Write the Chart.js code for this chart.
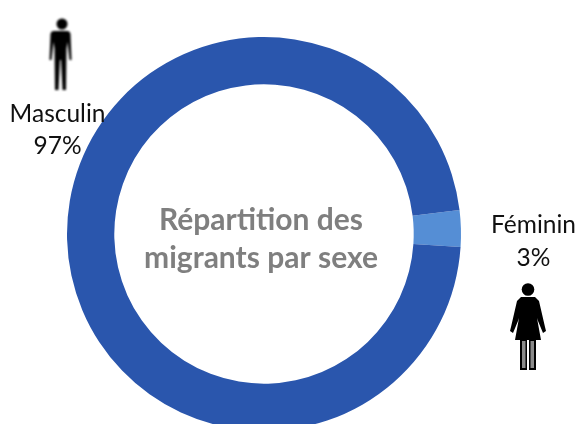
<!DOCTYPE html>
<html><head><meta charset="utf-8">
<style>html,body{margin:0;padding:0;background:#fff;overflow:hidden;width:579px;height:424px}
#w{position:relative;width:579px;height:424px;overflow:hidden}
canvas{position:absolute;left:0;top:0}
svg{position:absolute;overflow:visible}
</style>
<script src="https://cdn.jsdelivr.net/npm/chart.js@4"></script>
</head><body><div id="w"><canvas id="c" width="579" height="431"></canvas>
<svg style="left:0;top:0;filter:blur(.8px)" width="579" height="424">
<g fill="#000">
<circle cx="62" cy="24" r="5.5"/>
<path d="M57 31h10q3 0 3.5 3l1 26h-2l-2-18-1 7-.5 41h-3.5l-1.5-30h-1l-1.5 30h-3.5l-.5-41-1-7-2 18h-2l1-26q.5-3 3.5-3z"/>
</g></svg>
<svg style="left:0;top:0;filter:blur(.45px)" width="579" height="424">
<g fill="#000">
<circle cx="528" cy="289.500" r="6.300"/>
<path d="M521 297h14l4 4 6 26 1 4-3 2-5-12-1-3 4 22h-26l4-22-1 3-5 12-3-2 1-4 6-26z"/>
<path d="M520 340h7v30h-7zM529 340h7v30h-7z"/>
</g><g fill="#8a8a8a"><rect x="522" y="341" width="3.500" height="27"/><rect x="530.500" y="341" width="3.500" height="27"/></g></svg>
</div>
<script>
const categories=["Féminin","Masculin"];
const values=[3,97];
const percentLabels=["3%","97%"];
const sliceColors=["#558ed5","#2a56ad"];
const centerTitle=["Répartition des","migrants par sexe"];
const textPlugin={id:'texts',afterDraw(ch){
 const x=ch.ctx;x.save();x.textAlign='center';x.textBaseline='middle';
 x.fillStyle='#7f7f7f';x.font='bold 30px Lato';
 x.fillText(centerTitle[0],261,220);x.fillText(centerTitle[1],261,258);
 x.fillStyle='#111';x.font='24.5px Lato';
 x.fillText(categories[1],57.5,114);x.fillText(percentLabels[1],57.5,146);
 x.fillText(categories[0],533.5,225);x.fillText(percentLabels[0],533.5,258);
 x.restore();}};
new Chart(document.getElementById('c'),{type:'doughnut',
 data:{labels:categories,datasets:[{data:values,backgroundColor:sliceColors,borderWidth:0}]},
 options:{responsive:false,animation:false,rotation:83,cutout:'76%',
  layout:{padding:{left:67,right:118,top:37,bottom:0}},
  plugins:{legend:{display:false},tooltip:{enabled:false}}},
 plugins:[textPlugin]});
</script></body></html>
